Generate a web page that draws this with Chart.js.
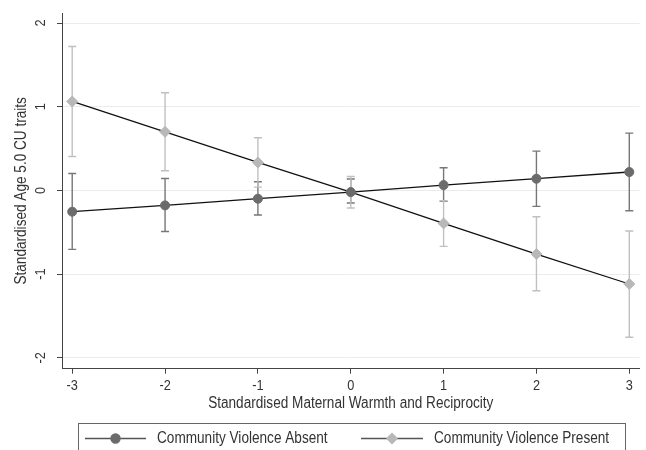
<!DOCTYPE html>
<html>
<head>
<meta charset="utf-8">
<script src="https://cdn.jsdelivr.net/npm/chart.js@4.4.1/dist/chart.umd.min.js"></script>
<style>
  html, body { margin: 0; padding: 0; background: #fff; }
  #wrap { width: 646px; height: 450px; position: relative; }
</style>
</head>
<body>
<div id="wrap"><canvas id="chart"></canvas></div>
<script>
// Data
const warmth = [-3, -2, -1, 0, 1, 2, 3];
const xTicks = [-3, -2, -1, 0, 1, 2, 3];
const yTicks = [-2, -1, 0, 1, 2];

const absentMean = [-0.254, -0.179, -0.099, -0.02, 0.064, 0.14, 0.22];
const absentLow  = [-0.704, -0.49, -0.294, -0.15, -0.131, -0.191, -0.242];
const absentHigh = [0.203, 0.143, 0.104, 0.136, 0.271, 0.47, 0.685];

const presentMean = [1.063, 0.70, 0.334, -0.02, -0.394, -0.76, -1.118];
const presentLow  = [0.406, 0.235, 0.04, -0.21, -0.668, -1.198, -1.755];
const presentHigh = [1.72, 1.167, 0.629, 0.167, -0.123, -0.314, -0.485];

const seriesNames = ["Community Violence Absent", "Community Violence Present"];
const xTitle = "Standardised Maternal Warmth and Reciprocity";
const yTitle = "Standardised Age 5.0 CU traits";

// no narrow face installed, so squeeze Liberation Sans sideways
const FAMILY = '"Liberation Sans", Arial, sans-serif';
const SQUEEZE = 0.85;

const darkGrey = "#6b6b6b";
const darkBar = "#777777";
const lightGrey = "#b8b8b8";
const lightBar = "#c0c0c0";
const axisColor = "#444444";
const textColor = "#333333";

function toPoints(ys) {
    return warmth.map((x, i) => ({ x: x, y: ys[i] }));
}

// text drawn narrow; rot is the rotation in radians
function narrowText(ctx, text, x, y, size, align, rot) {
    ctx.save();
    ctx.translate(x, y);
    if (rot) ctx.rotate(rot);
    ctx.scale(SQUEEZE, 1);
    ctx.font = size + "px " + FAMILY;
    ctx.textAlign = align;
    ctx.textBaseline = "middle";
    ctx.fillText(text, 0, 0);
    ctx.restore();
}

// error bars with caps
const errorBars = {
    id: "errorBars",
    beforeDatasetsDraw(chart) {
        const ctx = chart.ctx;
        const xs = chart.scales.x, ys = chart.scales.y;
        const sets = [
            { low: absentLow, high: absentHigh, color: darkBar },
            { low: presentLow, high: presentHigh, color: lightBar }
        ];
        ctx.save();
        ctx.lineWidth = 1.4;
        sets.forEach(s => {
            ctx.strokeStyle = s.color;
            warmth.forEach((x, i) => {
                const px = xs.getPixelForValue(x);
                const top = ys.getPixelForValue(s.high[i]);
                const bot = ys.getPixelForValue(s.low[i]);
                ctx.beginPath();
                ctx.moveTo(px, top); ctx.lineTo(px, bot);
                ctx.moveTo(px - 4, top); ctx.lineTo(px + 4, top);
                ctx.moveTo(px - 4, bot); ctx.lineTo(px + 4, bot);
                ctx.stroke();
            });
        });
        ctx.restore();
    }
};

// tick labels, axis titles and boxed legend
const decorations = {
    id: "decorations",
    afterDraw(chart) {
        const ctx = chart.ctx;
        const area = chart.chartArea;
        const xs = chart.scales.x, ys = chart.scales.y;
        ctx.save();
        ctx.fillStyle = textColor;

        xTicks.forEach(v => {
            narrowText(ctx, String(v), xs.getPixelForValue(v), 386, 15, "center", 0);
        });
        yTicks.forEach(v => {
            narrowText(ctx, String(v), 41, ys.getPixelForValue(v), 15, "center", -Math.PI / 2);
        });

        narrowText(ctx, yTitle, 22, (area.top + area.bottom) / 2, 16, "center", -Math.PI / 2);
        narrowText(ctx, xTitle, (area.left + area.right) / 2, 403.5, 16, "center", 0);

        // legend
        ctx.strokeStyle = "#666666";
        ctx.lineWidth = 1;
        ctx.strokeRect(78.5, 423.5, 547, 40);

        const ly = 438.5;
        const items = [
            { x0: 85, x1: 146, name: seriesNames[0], style: "circle", color: darkGrey, r: 4.5 },
            { x0: 361, x1: 423, name: seriesNames[1], style: "rectRot", color: lightGrey, r: 5 }
        ];
        items.forEach(it => {
            ctx.strokeStyle = "#555555";
            ctx.lineWidth = 1.4;
            ctx.beginPath();
            ctx.moveTo(it.x0, ly); ctx.lineTo(it.x1, ly);
            ctx.stroke();
            ctx.fillStyle = it.color;
            ctx.strokeStyle = it.color;
            Chart.helpers.drawPoint(ctx, { pointStyle: it.style, radius: it.r, borderWidth: 1 }, (it.x0 + it.x1) / 2, ly);
            ctx.fillStyle = textColor;
            narrowText(ctx, it.name, it.x1 + 11, ly, 16, "left", 0);
        });
        ctx.restore();
    }
};

new Chart(document.getElementById("chart"), {
    type: "line",
    data: {
        datasets: [
            {
                label: seriesNames[0],
                data: toPoints(absentMean),
                borderColor: "#111111",
                borderWidth: 1.3,
                pointStyle: "circle",
                pointRadius: 4.5,
                pointBackgroundColor: darkGrey,
                pointBorderColor: darkGrey,
                pointBorderWidth: 1
            },
            {
                label: seriesNames[1],
                data: toPoints(presentMean),
                borderColor: "#111111",
                borderWidth: 1.3,
                pointStyle: "rectRot",
                pointRadius: 5.5,
                pointBackgroundColor: lightGrey,
                pointBorderColor: lightGrey,
                pointBorderWidth: 1
            }
        ]
    },
    options: {
        responsive: true,
        maintainAspectRatio: false,
        animation: false,
        layout: { padding: { top: 13, right: 5, left: 0, bottom: 0 } },
        plugins: {
            legend: { display: false },
            tooltip: { enabled: false }
        },
        elements: { line: { tension: 0 } },
        scales: {
            x: {
                type: "linear",
                min: -3.11,
                max: 3.11,
                afterBuildTicks: scale => { scale.ticks = xTicks.map(v => ({ value: v })); },
                afterFit: scale => { scale.height = 81.3; },
                grid: { drawOnChartArea: false, drawTicks: true, tickLength: 5, tickColor: axisColor, tickWidth: 1 },
                border: { color: axisColor, width: 1 },
                ticks: { display: false }
            },
            y: {
                type: "linear",
                min: -2.13,
                max: 2.12,
                afterBuildTicks: scale => { scale.ticks = yTicks.map(v => ({ value: v })); },
                afterFit: scale => { scale.width = 62; },
                grid: { color: "#ebebeb", lineWidth: 1, drawTicks: true, tickLength: 5, tickColor: axisColor, tickWidth: 1 },
                border: { color: axisColor, width: 1 },
                ticks: { display: false }
            }
        }
    },
    plugins: [errorBars, decorations]
});
</script>
</body>
</html>
